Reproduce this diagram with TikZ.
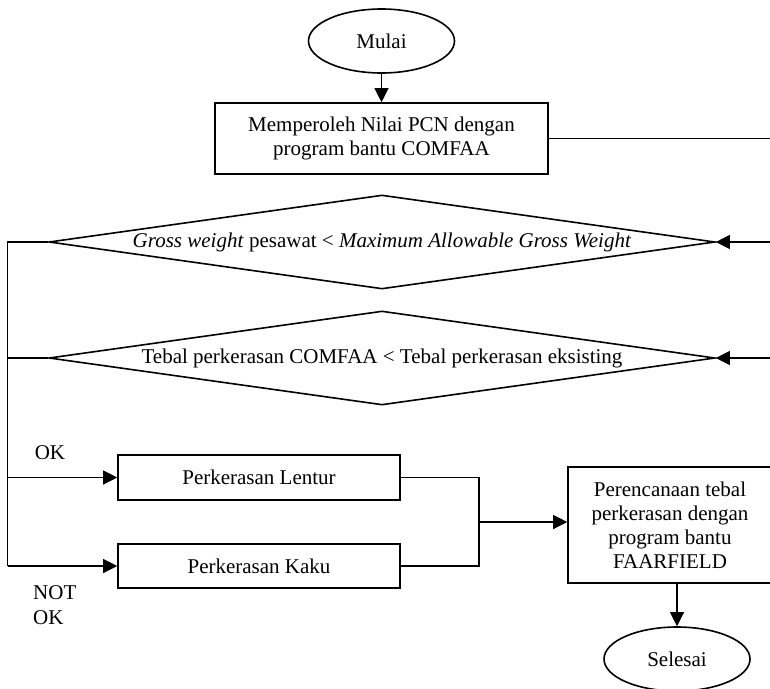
\documentclass[tikz,border=0pt]{standalone}
\usepackage{fontspec}
\setmainfont{Liberation Serif}
\usetikzlibrary{shapes.geometric,arrows.meta}
\begin{document}
\begin{tikzpicture}[x=1pt,y=-1pt,
  every node/.style={font=\fontsize{21}{24}\selectfont},
  boxnode/.style={draw,line width=1.6pt,rectangle,inner sep=0pt,align=center},
  ovalnode/.style={draw,line width=1.6pt,ellipse,minimum width=146pt,minimum height=64pt,inner sep=0pt},
  decnode/.style={draw,line width=1.6pt,diamond,minimum width=666pt,minimum height=94pt,inner sep=0pt},
  conn/.style={line width=1.2pt},
  arr/.style={conn,-{Triangle[length=14pt,width=14pt]}}]
\useasboundingbox (0,0) rectangle (770,688);
\clip (0,0) rectangle (770,688);
% nodes
\node[ovalnode] (start) at (381.5,41) {Mulai};
\node[boxnode,minimum width=333pt,minimum height=71pt] (pcn) at (381.5,138.5) {Memperoleh Nilai PCN dengan\\program bantu COMFAA};
\node[decnode] (d1) at (382,242) {\makebox[0pt]{\textit{Gross weight} pesawat < \textit{Maximum Allowable Gross Weight}}};
\node[decnode] (d2) at (382,358) {\makebox[0pt]{Tebal perkerasan COMFAA < Tebal perkerasan eksisting}};
\node[boxnode,minimum width=282pt,minimum height=45pt] (flex) at (259,477.5) {Perkerasan Lentur};
\node[boxnode,minimum width=282pt,minimum height=44pt] (rigid) at (259,566) {Perkerasan Kaku};
\node[boxnode,minimum width=204pt,minimum height=116pt] (faar) at (670,525) {Perencanaan tebal\\perkerasan dengan\\program bantu\\FAARFIELD};
\node[ovalnode] (end) at (677,659) {Selesai};
\node (ok) at (50,453) {OK};
\node[align=left,anchor=west,inner sep=0pt,font=\fontsize{21}{25}\selectfont] (nok) at (33,605.5) {NOT\\OK};
% coordinates
\coordinate (r0) at (770,138.5);
\coordinate (r1) at (770,242);
\coordinate (r2) at (770,358);
\coordinate (l1) at (7.5,242);
\coordinate (l2) at (7.5,358);
\coordinate (l3) at (7.5,477.5);
\coordinate (l4) at (7.5,566);
\coordinate (m) at (479,522);
% connectors
\draw[arr] (start.south) -- (start.south |- pcn.north);
\draw[conn] (pcn.east) -- (r0);
\draw[arr] (r1) -- (d1.east);
\draw[arr] (r2) -- (d2.east);
\draw[conn] (d1.west) -- (l1) -- (l4);
\draw[conn] (d2.west) -- (l2);
\draw[arr] (l3) -- (flex.west);
\draw[arr] (l4) -- (rigid.west);
\draw[conn] (flex.east) -| (m) |- (rigid.east);
\draw[arr] (m) -- (m -| faar.west);
\draw[arr] (end.north |- faar.south) -- (end.north);
\end{tikzpicture}
\end{document}
